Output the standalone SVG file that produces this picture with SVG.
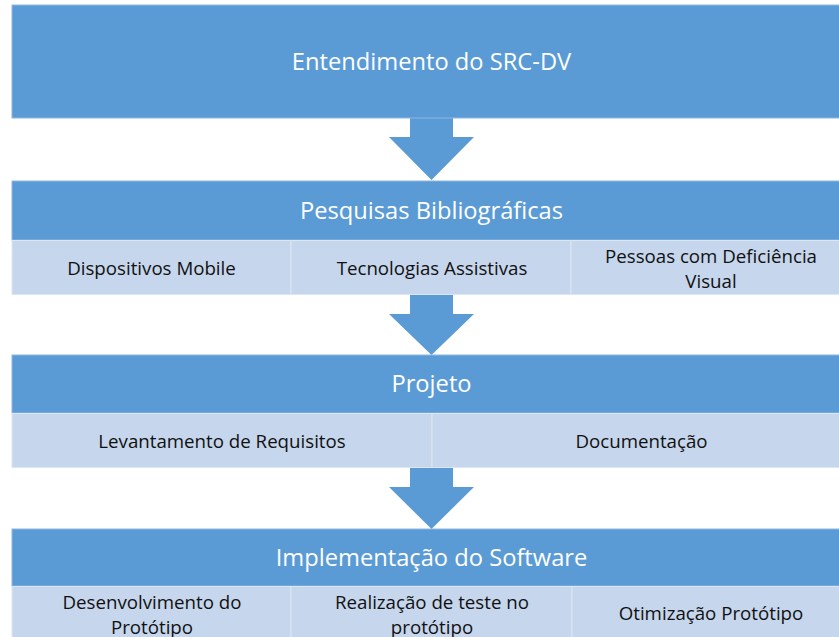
<svg xmlns="http://www.w3.org/2000/svg" width="839" height="637" viewBox="0 0 839 637">
<style>
.hdr{fill:#5B9BD5;stroke:#8DB8E4;stroke-width:1}
.cell{fill:#C6D6EC;stroke:#DCE6F4;stroke-width:1}
.arr{fill:#5B9BD5}
.t1{font-family:"Open Sans","Liberation Sans",sans-serif;fill:#FFFFFF;text-anchor:middle;dominant-baseline:central;font-size:23.7px}
.t2{font-family:"Open Sans","Liberation Sans",sans-serif;fill:#111111;text-anchor:middle;dominant-baseline:central;font-size:18.7px}
</style>
<rect width="839" height="637" fill="#FFFFFF"/>
<g id="connectors">
<path class="arr" d="M410,117 H453 V137 H474 L431.5,180 L389,137 H410 Z"/>
<path class="arr" d="M410,294 H453 V314 H474 L431.5,355 L389,314 H410 Z"/>
<path class="arr" d="M410,468 H453 V487 H474 L431.5,529 L389,487 H410 Z"/>
</g>
<g id="n1">
<rect class="hdr" x="12" y="5" width="840" height="113"/>
<text class="t1" x="431.5" y="61" font-size="24">Entendimento do SRC-DV</text>
</g>
<g id="n2">
<rect class="hdr" x="12" y="181" width="840" height="59"/>
<text class="t1" x="431.5" y="210">Pesquisas Bibliográficas</text>
</g>
<g id="n2a">
<rect class="cell" x="12" y="240.5" width="279" height="54"/>
<text class="t2" x="151.5" y="267">Dispositivos Mobile</text>
</g>
<g id="n2b">
<rect class="cell" x="291" y="240.5" width="280" height="54"/>
<text class="t2" x="432" y="267">Tecnologias Assistivas</text>
</g>
<g id="n2c">
<rect class="cell" x="571" y="240.5" width="281" height="54"/>
<text class="t2" x="711" y="255">Pessoas com Deficiência</text>
<text class="t2" x="711" y="280">Visual</text>
</g>
<g id="n3">
<rect class="hdr" x="12" y="355" width="840" height="58"/>
<text class="t1" x="431.5" y="383">Projeto</text>
</g>
<g id="n3a">
<rect class="cell" x="12" y="413.5" width="420" height="54"/>
<text class="t2" x="222" y="440">Levantamento de Requisitos</text>
</g>
<g id="n3b">
<rect class="cell" x="432" y="413.5" width="420" height="54"/>
<text class="t2" x="641.5" y="440">Documentação</text>
</g>
<g id="n4">
<rect class="hdr" x="12" y="529" width="840" height="57"/>
<text class="t1" x="431.5" y="557">Implementação do Software</text>
</g>
<g id="n4a">
<rect class="cell" x="12" y="586.5" width="279" height="56"/>
<text class="t2" x="152" y="601">Desenvolvimento  do</text>
<text class="t2" x="152" y="626">Protótipo</text>
</g>
<g id="n4b">
<rect class="cell" x="291" y="586.5" width="281" height="56"/>
<text class="t2" x="432" y="601">Realização de teste no</text>
<text class="t2" x="432" y="626">protótipo</text>
</g>
<g id="n4c">
<rect class="cell" x="572" y="586.5" width="280" height="56"/>
<text class="t2" x="711" y="612">Otimização Protótipo</text>
</g>
</svg>
